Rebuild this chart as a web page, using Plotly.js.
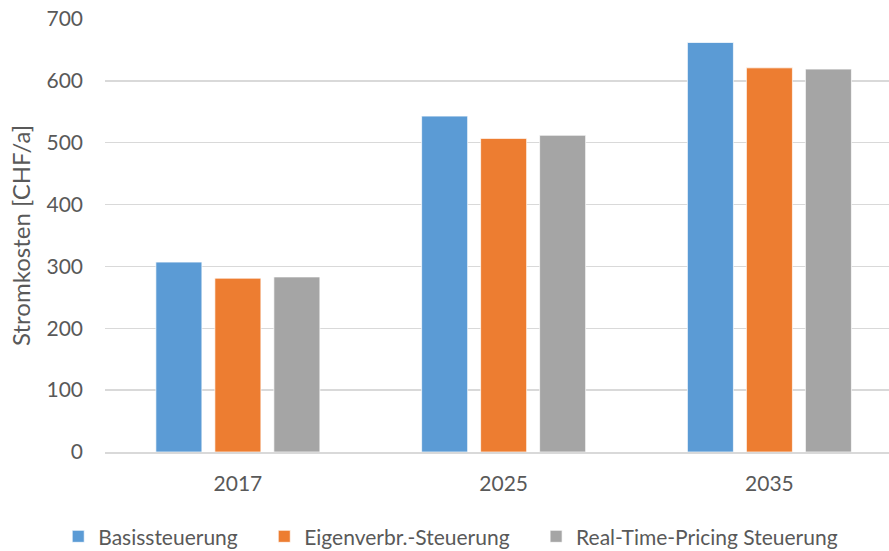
<!DOCTYPE html>
<html>
<head>
<meta charset="utf-8">
<script src="https://cdn.plot.ly/plotly-3.0.1.min.js"></script>
<style>html,body{margin:0;padding:0;background:#fff;}#chart{width:889px;height:551px;}</style>
</head>
<body>
<div id="chart"></div>
<script>
const years = ['2017', '2025', '2035'];
const seriesNames = ['Basissteuerung', 'Eigenverbr.-Steuerung', 'Real-Time-Pricing Steuerung'];
const basis = [307, 543, 662];
const eigen = [281, 507, 621];
const rtp = [283, 512, 619];
const colors = ['#5B9BD5', '#ED7D31', '#A5A5A5'];
const yTicks = [0, 100, 200, 300, 400, 500, 600, 700];

const FONT = 'Lato, "Open Sans", sans-serif';
const PAD = '\u00a0\u00a0\u00a0\u00a0';
const values = [basis, eigen, rtp];
const traces = values.map((v, i) => ({
  type: 'bar',
  name: seriesNames[i] + (i < 2 ? PAD : ''),
  x: years,
  y: v,
  marker: {color: colors[i], line: {color: '#ffffff', width: 0.7}},
  hoverinfo: 'x+y+name'
}));

const layout = {
  width: 889, height: 551,
  margin: {l: 105, r: 0, t: 19, b: 99},
  paper_bgcolor: '#ffffff', plot_bgcolor: '#ffffff',
  barmode: 'group',
  bargap: 0.334,
  bargroupgap: 0.22,
  font: {family: FONT, color: '#595959', size: 21},
  xaxis: {
    type: 'category',
    range: [-0.5, 2.45],
    showgrid: false,
    showline: true, linecolor: '#d9d9d9', linewidth: 1.5,
    ticks: '', ticklabelstandoff: 12,
    tickfont: {size: 21, color: '#595959', family: FONT},
    zeroline: false
  },
  yaxis: {
    range: [0, 700],
    tickvals: yTicks,
    ticktext: yTicks.map(String),
    showgrid: true, gridcolor: '#d9d9d9', gridwidth: 1.5,
    zeroline: false, showline: false,
    ticks: '', ticklabelstandoff: 21,
    tickfont: {size: 21, color: '#595959', family: FONT},
    title: {text: 'Stromkosten [CHF/a]', font: {size: 24, color: '#595959', family: FONT}, standoff: 9}
  },
  legend: {
    orientation: 'h',
    xref: 'container', yref: 'container',
    x: 0.507, xanchor: 'center',
    y: 0.026, yanchor: 'middle',
    font: {size: 21, color: '#595959', family: FONT},
    itemwidth: 30,
    traceorder: 'normal'
  },
  showlegend: true
};

Plotly.newPlot('chart', traces, layout, {displayModeBar: false, staticPlot: true});
</script>
</body>
</html>
